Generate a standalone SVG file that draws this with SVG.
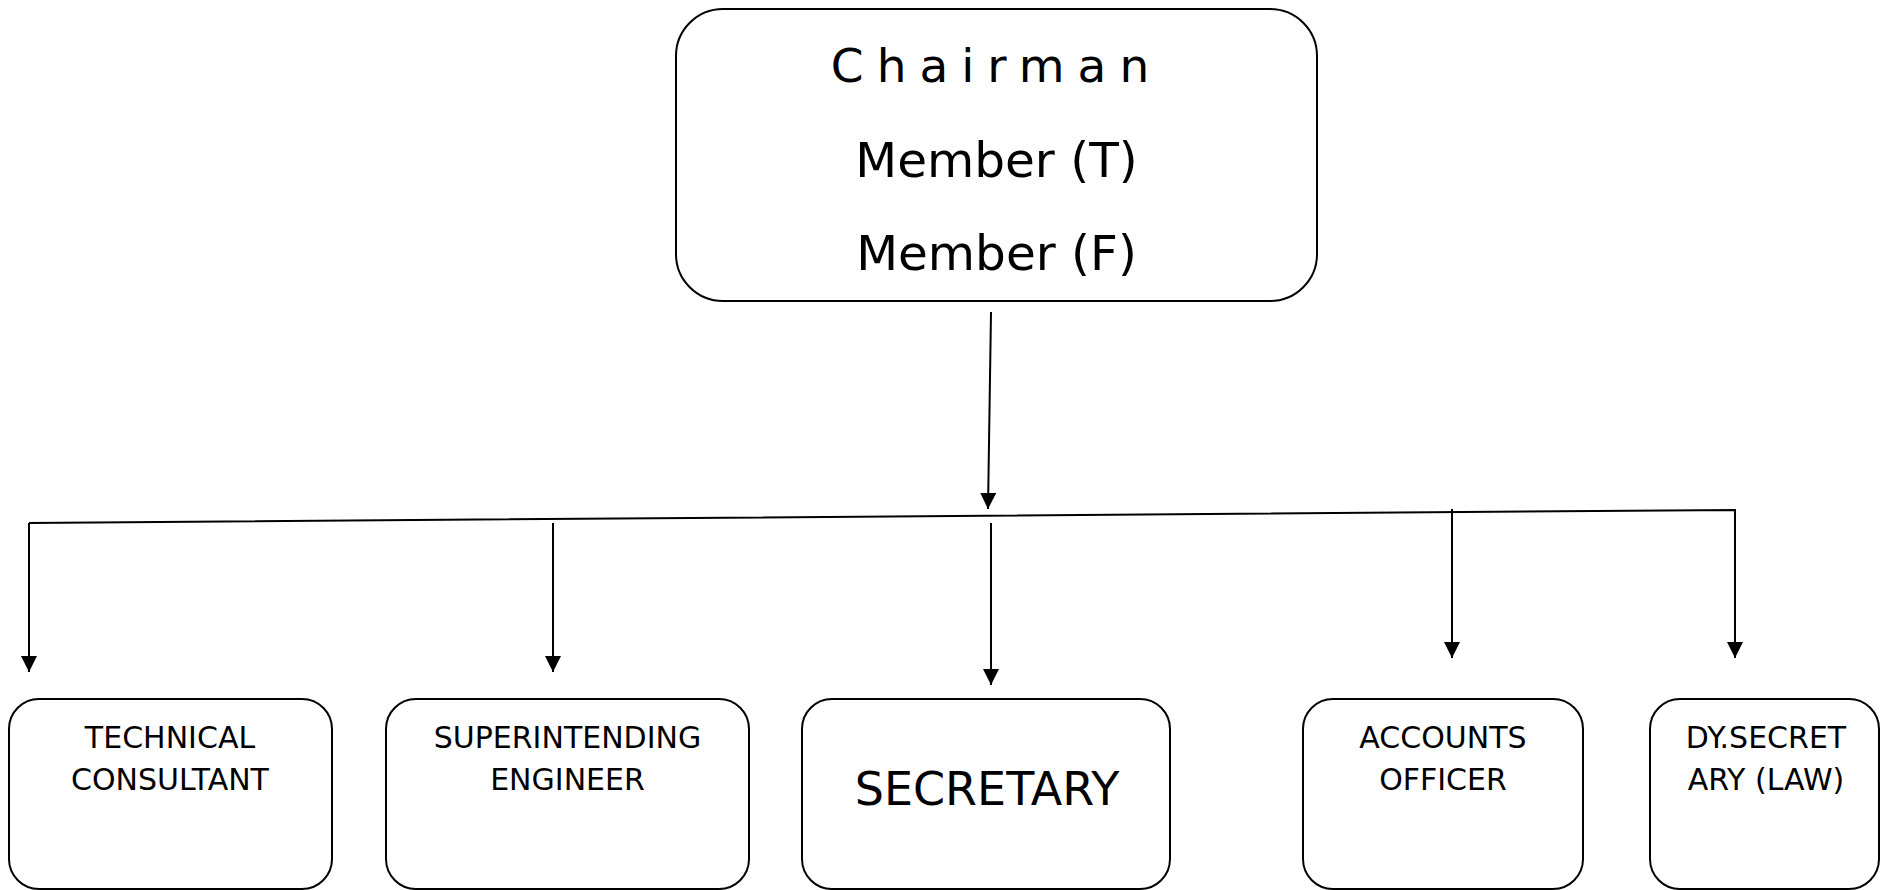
<svg xmlns="http://www.w3.org/2000/svg" width="1880" height="890" viewBox="0 0 1880 890">
  <style>
    .box { fill: #ffffff; stroke: #000000; stroke-width: 2; }
    .txt { font-family: "DejaVu Sans", Verdana, sans-serif; fill: #000000; text-anchor: middle; }
    .top { font-size: 48.5px; }
    .small { font-size: 30px; }
    .big { font-size: 46px; }
    .conn { fill: none; stroke: #000000; stroke-width: 2; }
  </style>
  <defs>
    <marker id="arrow" markerUnits="userSpaceOnUse" markerWidth="16" markerHeight="16" refX="16" refY="8" orient="auto">
      <path d="M0,0 L16,8 L0,16 Z" fill="#000000"/>
    </marker>
  </defs>
  <rect width="1880" height="890" fill="#ffffff"/>

  <g id="chairman">
    <rect class="box" x="676" y="9" width="641" height="292" rx="47" ry="47"/>
    <text class="txt" x="996.5" y="82" font-size="47" letter-spacing="13">Chairman</text>
    <text class="txt top" x="996.5" y="177">Member (T)</text>
    <text class="txt top" x="996.5" y="270">Member (F)</text>
  </g>

  <g id="technical-consultant">
    <rect class="box" x="9" y="699" width="323" height="190" rx="30" ry="30"/>
    <text class="txt small" x="170" y="748">TECHNICAL</text>
    <text class="txt small" x="170" y="790">CONSULTANT</text>
  </g>

  <g id="superintending-engineer">
    <rect class="box" x="386" y="699" width="363" height="190" rx="30" ry="30"/>
    <text class="txt small" x="567.5" y="748">SUPERINTENDING</text>
    <text class="txt small" x="567.5" y="790">ENGINEER</text>
  </g>

  <g id="secretary">
    <rect class="box" x="802" y="699" width="368" height="190" rx="30" ry="30"/>
    <text class="txt big" x="987" y="805">SECRETARY</text>
  </g>

  <g id="accounts-officer">
    <rect class="box" x="1303" y="699" width="280" height="190" rx="30" ry="30"/>
    <text class="txt small" x="1443" y="748">ACCOUNTS</text>
    <text class="txt small" x="1443" y="790">OFFICER</text>
  </g>

  <g id="dy-secretary-law">
    <rect class="box" x="1650" y="699" width="229" height="190" rx="30" ry="30"/>
    <text class="txt small" x="1766" y="748">DY.SECRET</text>
    <text class="txt small" x="1766" y="790">ARY (LAW)</text>
  </g>

  <g id="connectors">
    <path class="conn" d="M991,312 L988,509" marker-end="url(#arrow)"/>
    <path class="conn" d="M29,523 L1735,510 L1735,658" marker-end="url(#arrow)"/>
    <path class="conn" d="M29,523 L29,672" marker-end="url(#arrow)"/>
    <path class="conn" d="M553,523 L553,672" marker-end="url(#arrow)"/>
    <path class="conn" d="M991,523 L991,685" marker-end="url(#arrow)"/>
    <path class="conn" d="M1452,509 L1452,658" marker-end="url(#arrow)"/>
  </g>
</svg>
